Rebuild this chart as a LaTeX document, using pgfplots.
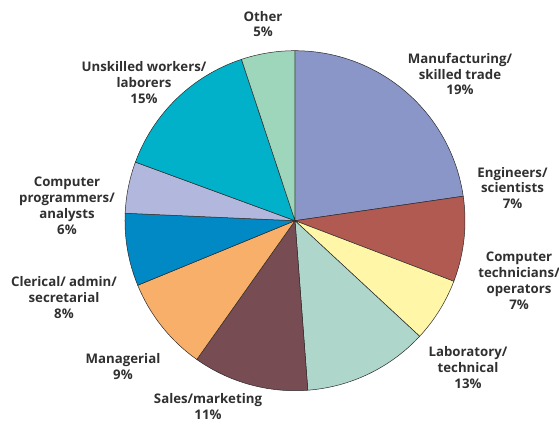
\documentclass[border=0pt]{standalone}
\usepackage{fontspec}
\setmainfont{Open Sans}
\usepackage{pgfplots}
\pgfplotsset{compat=1.18}
\usepgfplotslibrary{polar}
\definecolor{cManu}{HTML}{8A96C8}
\definecolor{cEng}{HTML}{B05A52}
\definecolor{cTech}{HTML}{FFF6A8}
\definecolor{cLab}{HTML}{AFD6CB}
\definecolor{cSales}{HTML}{774C53}
\definecolor{cMan}{HTML}{F8AF6A}
\definecolor{cCler}{HTML}{0089C4}
\definecolor{cProg}{HTML}{B1B7DD}
\definecolor{cUnsk}{HTML}{00B1C9}
\definecolor{cOther}{HTML}{9ED6BB}
\definecolor{edge}{HTML}{2A2A2A}
\definecolor{txt}{HTML}{303030}
% Slice shares (percent of circle, as drawn), clockwise from 12 o'clock:
% Manufacturing 22.7, Engineers 8.1, Comp. technicians 6.1, Laboratory 11.9,
% Sales 11.0, Managerial 9.0, Clerical 6.9, Comp. programmers 4.9,
% Unskilled 14.3, Other 5.1  -> polar angles = 90 - 3.6*cumulative
\begin{document}
\begin{tikzpicture}[lbl/.style={align=center, font=\fontsize{13.3}{15.8}\selectfont\bfseries, text=txt, inner sep=0pt}]
\begin{polaraxis}[hide axis, width=340bp, height=340bp, scale only axis,
  ymin=0, ymax=1, clip=false, at={(0,0)}, anchor=center]
\pgfplotsset{every axis plot/.append style={draw=edge, line width=0.5bp, samples=60}}
\addplot[fill=cManu,  domain=8.28:90]        {1} -- (axis cs:0,0) -- cycle;
\addplot[fill=cEng,   domain=-20.88:8.28]    {1} -- (axis cs:0,0) -- cycle;
\addplot[fill=cTech,  domain=-42.84:-20.88]  {1} -- (axis cs:0,0) -- cycle;
\addplot[fill=cLab,   domain=-85.68:-42.84]  {1} -- (axis cs:0,0) -- cycle;
\addplot[fill=cSales, domain=-125.28:-85.68] {1} -- (axis cs:0,0) -- cycle;
\addplot[fill=cMan,   domain=-157.68:-125.28]{1} -- (axis cs:0,0) -- cycle;
\addplot[fill=cCler,  domain=-182.52:-157.68]{1} -- (axis cs:0,0) -- cycle;
\addplot[fill=cProg,  domain=-200.16:-182.52]{1} -- (axis cs:0,0) -- cycle;
\addplot[fill=cUnsk,  domain=-251.64:-200.16]{1} -- (axis cs:0,0) -- cycle;
\addplot[fill=cOther, domain=-270:-251.64]   {1} -- (axis cs:0,0) -- cycle;
\end{polaraxis}
\node[lbl] at (-32bp,196.7bp) {Other\\5\%};
\node[lbl] at (165bp,146.7bp) {Manufacturing/\\skilled trade\\19\%};
\node[lbl] at (217.5bp,32.7bp) {Engineers/\\scientists\\7\%};
\node[lbl] at (224bp,-60bp) {Computer\\technicians/\\operators\\7\%};
\node[lbl] at (173bp,-147bp) {Laboratory/\\technical\\13\%};
\node[lbl] at (-87bp,-186bp) {Sales/marketing\\11\%};
\node[lbl] at (-172bp,-146bp) {Managerial\\9\%};
\node[lbl] at (-231bp,-77bp) {Clerical/ admin/\\secretarial\\8\%};
\node[lbl] at (-228bp,15bp) {Computer\\programmers/\\analysts\\6\%};
\node[lbl] at (-151bp,138bp) {Unskilled workers/\\laborers\\15\%};
\pgfresetboundingbox
\path[use as bounding box] (-295bp,-202.3bp) rectangle (264bp,220.7bp);
\end{tikzpicture}
\end{document}
